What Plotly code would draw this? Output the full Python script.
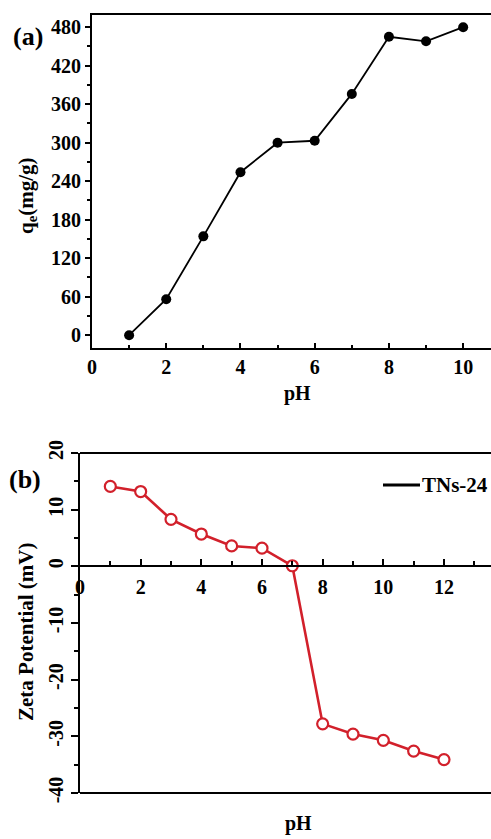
import plotly.graph_objects as go

# ---- data ----
ph_a = [1, 2, 3, 4, 5, 6, 7, 8, 9, 10]
qe = [0, 56, 154, 254, 300, 303, 376, 465, 458, 480]

ph_b = [1, 2, 3, 4, 5, 6, 7, 8, 9, 10, 11, 12]
zeta = [14.1, 13.2, 8.3, 5.7, 3.6, 3.2, 0.1, -27.8, -29.6, -30.7, -32.6, -34.1]
series_b_name = "TNs-24"

ya_ticks = [0, 60, 120, 180, 240, 300, 360, 420, 480]
xa_ticks = [0, 2, 4, 6, 8, 10]
yb_ticks = [-40, -30, -20, -10, 0, 10, 20]
yb_labels = ["-40", "-30", "-20", "-10", "0", "10", "20"]
xb_ticks = [0, 2, 4, 6, 8, 10, 12, 14]

W, H = 491, 839
FONT = "Liberation Serif"
RED = "#D2202B"

def px(x):
    return x / W

def py(y):
    return 1 - y / H

xa_dom = [px(92), 1.0]
ya_dom = [py(348), py(15)]
xb_dom = [px(80), 1.0]
yb_dom = [py(793), py(453)]
yb_range = [-40, 20]
zero_pos = yb_dom[0] + (0 - yb_range[0]) / (yb_range[1] - yb_range[0]) * (yb_dom[1] - yb_dom[0])

fig = go.Figure()
fig.add_trace(go.Scatter(
    x=ph_a, y=qe, mode="lines+markers", xaxis="x", yaxis="y",
    line=dict(color="black", width=1.8),
    marker=dict(color="black", size=10, symbol="circle"),
    showlegend=False,
))
fig.add_trace(go.Scatter(
    x=ph_b, y=zeta, mode="lines+markers", xaxis="x2", yaxis="y2",
    line=dict(color=RED, width=2.6),
    marker=dict(color="white", size=11, symbol="circle",
                line=dict(color=RED, width=2.2)),
    showlegend=False, name=series_b_name,
))

tickfont = dict(family=FONT, size=20, color="black", weight="bold")

fig.update_layout(
    width=W, height=H,
    margin=dict(l=0, r=0, t=0, b=0, autoexpand=False),
    paper_bgcolor="white", plot_bgcolor="white",
    showlegend=False,
    xaxis=dict(domain=xa_dom, anchor="y", range=[0, 10.75], automargin=False,
               tickvals=xa_ticks, ticks="inside", ticklen=5, tickwidth=1.5,
               tickcolor="black", showline=True, linecolor="black", linewidth=2,
               mirror=True, showgrid=False, zeroline=False, tickfont=tickfont,
               minor=dict(tickvals=[1, 3, 5, 7, 9], ticks="inside", ticklen=3,
                          tickwidth=1.5, tickcolor="black", showgrid=False),
               ticklabelstandoff=0),
    yaxis=dict(domain=ya_dom, anchor="x", range=[-20, 499], automargin=False,
               tickvals=ya_ticks, ticks="outside", ticklen=5, tickwidth=1.5,
               tickcolor="black", showline=True, linecolor="black", linewidth=2,
               showgrid=False, zeroline=False, tickfont=tickfont,
               minor=dict(tickvals=[30, 90, 150, 210, 270, 330, 390, 450],
                          ticks="outside", ticklen=3, tickwidth=1.5,
                          tickcolor="black", showgrid=False)),
    xaxis2=dict(domain=xb_dom, anchor="free", position=zero_pos, range=[0, 13.55],
                automargin=False,
                tickvals=xb_ticks, ticks="inside", ticklen=6, tickwidth=1.5,
                tickcolor="black", showline=True, linecolor="black", linewidth=2,
                showgrid=False, zeroline=False, tickfont=tickfont,
                minor=dict(tickvals=[1, 3, 5, 7, 9, 11, 13], ticks="inside", ticklen=4,
                           tickwidth=1.5, tickcolor="black", showgrid=False),
                ticklabelstandoff=3),
    yaxis2=dict(domain=yb_dom, anchor="x2", range=yb_range, automargin=False,
                tickvals=yb_ticks, ticktext=yb_labels, ticks="outside", ticklen=7,
                tickwidth=1.5,
                tickcolor="black", showline=True, linecolor="black", linewidth=2,
                showgrid=False, zeroline=False, tickfont=tickfont, tickangle=-90,
                minor=dict(tickvals=[-35, -25, -15, -5, 5, 15], ticks="outside",
                           ticklen=4, tickwidth=1.5, tickcolor="black", showgrid=False)),
)

# frame lines of panel (b) (top and bottom borders)
for yv in (0, 1):
    fig.add_shape(type="line", xref="x2 domain", yref="y2 domain",
                  x0=0, x1=1, y0=yv, y1=yv, line=dict(color="black", width=2))

# legend key (line sample + label)
fig.add_shape(type="line", xref="paper", yref="paper",
              x0=px(383), x1=px(420), y0=py(485), y1=py(485),
              line=dict(color="black", width=3))

lab = dict(family=FONT, color="black", weight="bold")
ann = [
    dict(text="(a)", x=px(28), y=py(37), font=dict(size=26, **lab)),
    dict(text="(b)", x=px(25), y=py(479), font=dict(size=26, **lab)),
    dict(text="q<sub>e</sub>(mg/g)", x=px(27), y=py(196), textangle=-90,
         font=dict(size=21, **lab)),
    dict(text="pH", x=px(297), y=py(393), font=dict(size=20, **lab)),
    dict(text="Zeta Potential (mV)", x=px(26), y=py(632), textangle=-90,
         font=dict(size=21, **lab)),
    dict(text="pH", x=px(298), y=py(823), font=dict(size=20, **lab)),
]
for a in ann:
    fig.add_annotation(xref="paper", yref="paper", showarrow=False,
                       xanchor="center", yanchor="middle", **a)
fig.add_annotation(xref="paper", yref="paper", showarrow=False,
                   xanchor="left", yanchor="middle", x=px(420), y=py(485),
                   text=series_b_name, font=dict(size=21, **lab))

fig.write_html(
    "out.html",
    config={"displayModeBar": False},
    post_script="document.body.style.margin='0';document.body.style.overflow='hidden';",
)
